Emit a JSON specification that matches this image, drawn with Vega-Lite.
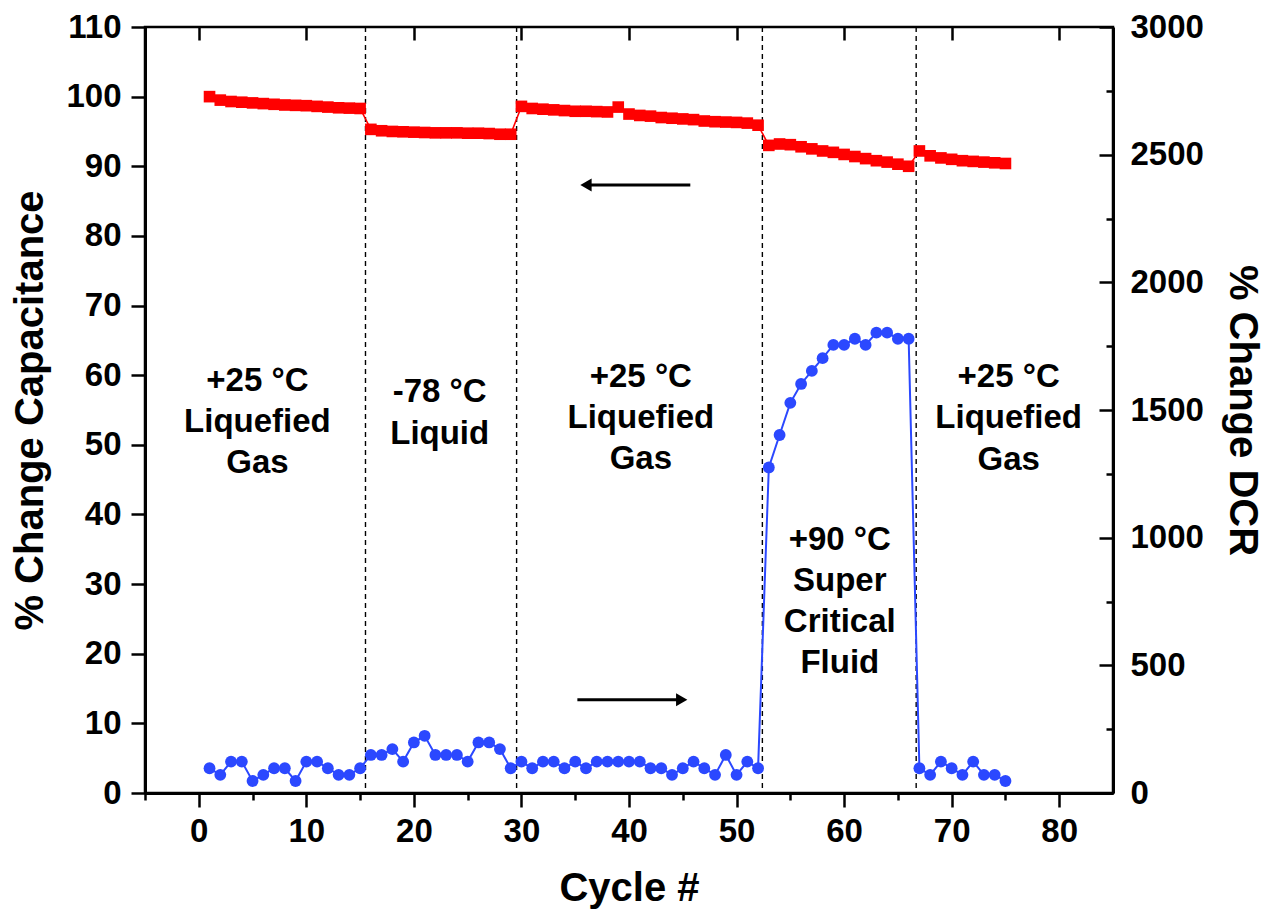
{
  "$schema": "https://vega.github.io/schema/vega-lite/v6.json",
  "width": 968,
  "height": 766,
  "autosize": "none",
  "padding": {"left": 145, "top": 27, "right": 152, "bottom": 123},
  "background": "white",
  "config": {
    "font": "Liberation Sans",
    "view": {"stroke": "black", "strokeWidth": 2.5},
    "axis": {
      "grid": false,
      "domainColor": "black",
      "domainWidth": 3,
      "tickColor": "black",
      "tickWidth": 2.5,
      "labelFont": "Liberation Sans",
      "labelFontWeight": "bold",
      "labelFontSize": 33,
      "labelColor": "black",
      "titleFont": "Liberation Sans",
      "titleFontWeight": "bold",
      "titleFontSize": 40,
      "titleColor": "black",
      "labelOverlap": false,
      "labelBound": false,
      "labelFlush": false
    }
  },
  "datasets": {
    "cap": [
      {"cycle": 1, "cap": 100.0}, {"cycle": 2, "cap": 99.5}, {"cycle": 3, "cap": 99.3}, {"cycle": 4, "cap": 99.2},
      {"cycle": 5, "cap": 99.1}, {"cycle": 6, "cap": 99.0}, {"cycle": 7, "cap": 98.9}, {"cycle": 8, "cap": 98.8},
      {"cycle": 9, "cap": 98.75}, {"cycle": 10, "cap": 98.7}, {"cycle": 11, "cap": 98.6}, {"cycle": 12, "cap": 98.5},
      {"cycle": 13, "cap": 98.4}, {"cycle": 14, "cap": 98.35}, {"cycle": 15, "cap": 98.3},
      {"cycle": 16, "cap": 95.3}, {"cycle": 17, "cap": 95.1}, {"cycle": 18, "cap": 95.0}, {"cycle": 19, "cap": 94.95},
      {"cycle": 20, "cap": 94.9}, {"cycle": 21, "cap": 94.85}, {"cycle": 22, "cap": 94.8}, {"cycle": 23, "cap": 94.8},
      {"cycle": 24, "cap": 94.8}, {"cycle": 25, "cap": 94.75}, {"cycle": 26, "cap": 94.75}, {"cycle": 27, "cap": 94.7},
      {"cycle": 28, "cap": 94.6}, {"cycle": 29, "cap": 94.6},
      {"cycle": 30, "cap": 98.6}, {"cycle": 31, "cap": 98.3}, {"cycle": 32, "cap": 98.2}, {"cycle": 33, "cap": 98.1},
      {"cycle": 34, "cap": 98.0}, {"cycle": 35, "cap": 97.9}, {"cycle": 36, "cap": 97.9}, {"cycle": 37, "cap": 97.85},
      {"cycle": 38, "cap": 97.8}, {"cycle": 39, "cap": 98.5}, {"cycle": 40, "cap": 97.5}, {"cycle": 41, "cap": 97.3},
      {"cycle": 42, "cap": 97.2}, {"cycle": 43, "cap": 97.0}, {"cycle": 44, "cap": 96.9}, {"cycle": 45, "cap": 96.8},
      {"cycle": 46, "cap": 96.7}, {"cycle": 47, "cap": 96.5}, {"cycle": 48, "cap": 96.4}, {"cycle": 49, "cap": 96.35},
      {"cycle": 50, "cap": 96.3}, {"cycle": 51, "cap": 96.2}, {"cycle": 52, "cap": 95.9},
      {"cycle": 53, "cap": 93.0}, {"cycle": 54, "cap": 93.2}, {"cycle": 55, "cap": 93.1}, {"cycle": 56, "cap": 92.8},
      {"cycle": 57, "cap": 92.5}, {"cycle": 58, "cap": 92.2}, {"cycle": 59, "cap": 92.0}, {"cycle": 60, "cap": 91.7},
      {"cycle": 61, "cap": 91.4}, {"cycle": 62, "cap": 91.1}, {"cycle": 63, "cap": 90.8}, {"cycle": 64, "cap": 90.6},
      {"cycle": 65, "cap": 90.3}, {"cycle": 66, "cap": 90.0},
      {"cycle": 67, "cap": 92.2}, {"cycle": 68, "cap": 91.5}, {"cycle": 69, "cap": 91.2}, {"cycle": 70, "cap": 91.0},
      {"cycle": 71, "cap": 90.8}, {"cycle": 72, "cap": 90.7}, {"cycle": 73, "cap": 90.6}, {"cycle": 74, "cap": 90.5},
      {"cycle": 75, "cap": 90.4}
    ],
    "dcr": [
      {"cycle": 1, "dcr": 97}, {"cycle": 2, "dcr": 71}, {"cycle": 3, "dcr": 123}, {"cycle": 4, "dcr": 123},
      {"cycle": 5, "dcr": 47}, {"cycle": 6, "dcr": 71}, {"cycle": 7, "dcr": 97}, {"cycle": 8, "dcr": 97},
      {"cycle": 9, "dcr": 47}, {"cycle": 10, "dcr": 123}, {"cycle": 11, "dcr": 123}, {"cycle": 12, "dcr": 97},
      {"cycle": 13, "dcr": 71}, {"cycle": 14, "dcr": 71}, {"cycle": 15, "dcr": 97},
      {"cycle": 16, "dcr": 149}, {"cycle": 17, "dcr": 149}, {"cycle": 18, "dcr": 172}, {"cycle": 19, "dcr": 123},
      {"cycle": 20, "dcr": 198}, {"cycle": 21, "dcr": 224}, {"cycle": 22, "dcr": 149}, {"cycle": 23, "dcr": 149},
      {"cycle": 24, "dcr": 149}, {"cycle": 25, "dcr": 123}, {"cycle": 26, "dcr": 198}, {"cycle": 27, "dcr": 198},
      {"cycle": 28, "dcr": 172}, {"cycle": 29, "dcr": 97},
      {"cycle": 30, "dcr": 123}, {"cycle": 31, "dcr": 97}, {"cycle": 32, "dcr": 123}, {"cycle": 33, "dcr": 123},
      {"cycle": 34, "dcr": 97}, {"cycle": 35, "dcr": 123}, {"cycle": 36, "dcr": 97}, {"cycle": 37, "dcr": 123},
      {"cycle": 38, "dcr": 123}, {"cycle": 39, "dcr": 123}, {"cycle": 40, "dcr": 123}, {"cycle": 41, "dcr": 123},
      {"cycle": 42, "dcr": 97}, {"cycle": 43, "dcr": 97}, {"cycle": 44, "dcr": 71}, {"cycle": 45, "dcr": 97},
      {"cycle": 46, "dcr": 123}, {"cycle": 47, "dcr": 97}, {"cycle": 48, "dcr": 71}, {"cycle": 49, "dcr": 149},
      {"cycle": 50, "dcr": 71}, {"cycle": 51, "dcr": 123}, {"cycle": 52, "dcr": 97},
      {"cycle": 53, "dcr": 1275}, {"cycle": 54, "dcr": 1402}, {"cycle": 55, "dcr": 1528}, {"cycle": 56, "dcr": 1602},
      {"cycle": 57, "dcr": 1653}, {"cycle": 58, "dcr": 1703}, {"cycle": 59, "dcr": 1755}, {"cycle": 60, "dcr": 1755},
      {"cycle": 61, "dcr": 1779}, {"cycle": 62, "dcr": 1755}, {"cycle": 63, "dcr": 1803}, {"cycle": 64, "dcr": 1803},
      {"cycle": 65, "dcr": 1779}, {"cycle": 66, "dcr": 1779},
      {"cycle": 67, "dcr": 97}, {"cycle": 68, "dcr": 71}, {"cycle": 69, "dcr": 123}, {"cycle": 70, "dcr": 97},
      {"cycle": 71, "dcr": 71}, {"cycle": 72, "dcr": 123}, {"cycle": 73, "dcr": 71}, {"cycle": 74, "dcr": 71},
      {"cycle": 75, "dcr": 47}
    ],
    "vlines": [{"cycle": 15.5}, {"cycle": 29.55}, {"cycle": 52.4}, {"cycle": 66.7}],
    "labels": [
      {"cycle": 5.45, "cap": 59.2, "text": "+25 °C"},
      {"cycle": 5.45, "cap": 53.3, "text": "Liquefied"},
      {"cycle": 5.45, "cap": 47.4, "text": "Gas"},
      {"cycle": 22.4, "cap": 57.6, "text": "-78 °C"},
      {"cycle": 22.4, "cap": 51.5, "text": "Liquid"},
      {"cycle": 41.1, "cap": 59.8, "text": "+25 °C"},
      {"cycle": 41.1, "cap": 53.9, "text": "Liquefied"},
      {"cycle": 41.1, "cap": 47.9, "text": "Gas"},
      {"cycle": 75.3, "cap": 59.8, "text": "+25 °C"},
      {"cycle": 75.3, "cap": 53.9, "text": "Liquefied"},
      {"cycle": 75.3, "cap": 47.8, "text": "Gas"},
      {"cycle": 59.6, "cap": 36.3, "text": "+90 °C"},
      {"cycle": 59.6, "cap": 30.4, "text": "Super"},
      {"cycle": 59.6, "cap": 24.5, "text": "Critical"},
      {"cycle": 59.6, "cap": 18.6, "text": "Fluid"}
    ],
    "arrows": [
      {"cycle": 36.0, "tail": 45.7, "cap": 87.3, "dir": "left"},
      {"cycle": 44.9, "tail": 35.2, "cap": 13.4, "dir": "right"}
    ]
  },
  "layer": [
    {
      "layer": [
        {
          "data": {"name": "vlines"},
          "mark": {"type": "rule", "color": "black", "strokeWidth": 1.4, "strokeDash": [5, 4]},
          "encoding": {
            "x": {
              "field": "cycle", "type": "quantitative",
              "scale": {"domain": [-5, 85], "nice": false, "zero": false},
              "axis": {
                "orient": "bottom",
                "title": "Cycle #",
                "values": [-5, 0, 5, 10, 15, 20, 25, 30, 35, 40, 45, 50, 55, 60, 65, 70, 75, 80],
                "labelExpr": "datum.value % 10 === 0 ? datum.label : ''",
                "tickSize": {"condition": {"test": "datum.value % 10 !== 0", "value": 7}, "value": 14},
                "labelPadding": 8,
                "titlePadding": 20
              }
            }
          }
        },
        {
          "data": {"name": "cap"},
          "mark": {"type": "line", "color": "#ff0000", "strokeWidth": 1.6},
          "encoding": {
            "x": {"field": "cycle", "type": "quantitative"},
            "y": {
              "field": "cap", "type": "quantitative",
              "scale": {"domain": [0, 110], "nice": false, "zero": false},
              "axis": {
                "orient": "left",
                "title": "% Change Capacitance",
                "values": [0, 5, 10, 15, 20, 25, 30, 35, 40, 45, 50, 55, 60, 65, 70, 75, 80, 85, 90, 95, 100, 105, 110],
                "labelExpr": "datum.value % 10 === 0 ? datum.label : ''",
                "tickSize": {"condition": {"test": "datum.value % 10 !== 0", "value": 7}, "value": 14},
                "labelPadding": 10,
                "titlePadding": 15
              }
            }
          }
        },
        {
          "data": {"name": "cap"},
          "mark": {"type": "point", "shape": "square", "filled": true, "color": "#ff0000", "opacity": 1, "size": 135},
          "encoding": {
            "x": {"field": "cycle", "type": "quantitative"},
            "y": {"field": "cap", "type": "quantitative"}
          }
        },
        {
          "data": {"name": "labels"},
          "mark": {"type": "text", "font": "Liberation Sans", "fontWeight": "bold", "fontSize": 33, "align": "center", "baseline": "middle", "color": "black"},
          "encoding": {
            "x": {"field": "cycle", "type": "quantitative"},
            "y": {"field": "cap", "type": "quantitative"},
            "text": {"field": "text", "type": "nominal"}
          }
        },
        {
          "data": {"name": "arrows"},
          "mark": {"type": "rule", "color": "black", "strokeWidth": 3},
          "encoding": {
            "x": {"field": "cycle", "type": "quantitative"},
            "x2": {"field": "tail"},
            "y": {"field": "cap", "type": "quantitative"}
          }
        },
        {
          "data": {"name": "arrows"},
          "mark": {"type": "point", "filled": true, "color": "black", "opacity": 1, "size": 170},
          "encoding": {
            "x": {"field": "cycle", "type": "quantitative"},
            "y": {"field": "cap", "type": "quantitative"},
            "shape": {"field": "dir", "type": "nominal", "scale": {"domain": ["left", "right"], "range": ["triangle-left", "triangle-right"]}, "legend": null}
          }
        }
      ]
    },
    {
      "layer": [
        {
          "data": {"name": "dcr"},
          "mark": {"type": "line", "color": "#2b48ff", "strokeWidth": 2},
          "encoding": {
            "x": {
              "field": "cycle", "type": "quantitative",
              "axis": {
                "orient": "top",
                "title": null,
                "labels": false,
                "domain": false,
                "offset": -13,
                "values": [0, 10, 20, 30, 40, 50, 60, 70, 80],
                "tickSize": 13
              }
            },
            "y": {
              "field": "dcr", "type": "quantitative",
              "scale": {"domain": [0, 3000], "nice": false, "zero": false},
              "axis": {
                "orient": "right",
                "title": "% Change DCR",
                "format": "d",
                "values": [0, 250, 500, 750, 1000, 1250, 1500, 1750, 2000, 2250, 2500, 2750, 3000],
                "labelExpr": "datum.value % 500 === 0 ? datum.label : ''",
                "tickSize": {"condition": {"test": "datum.value % 500 !== 0", "value": -7}, "value": -14},
                "labelPadding": 31,
                "titlePadding": 18
              }
            }
          }
        },
        {
          "data": {"name": "dcr"},
          "mark": {"type": "point", "shape": "circle", "filled": true, "color": "#2b48ff", "opacity": 1, "size": 140},
          "encoding": {
            "x": {"field": "cycle", "type": "quantitative"},
            "y": {"field": "dcr", "type": "quantitative"}
          }
        }
      ]
    }
  ],
  "resolve": {"scale": {"y": "independent"}, "axis": {"x": "independent"}}
}
